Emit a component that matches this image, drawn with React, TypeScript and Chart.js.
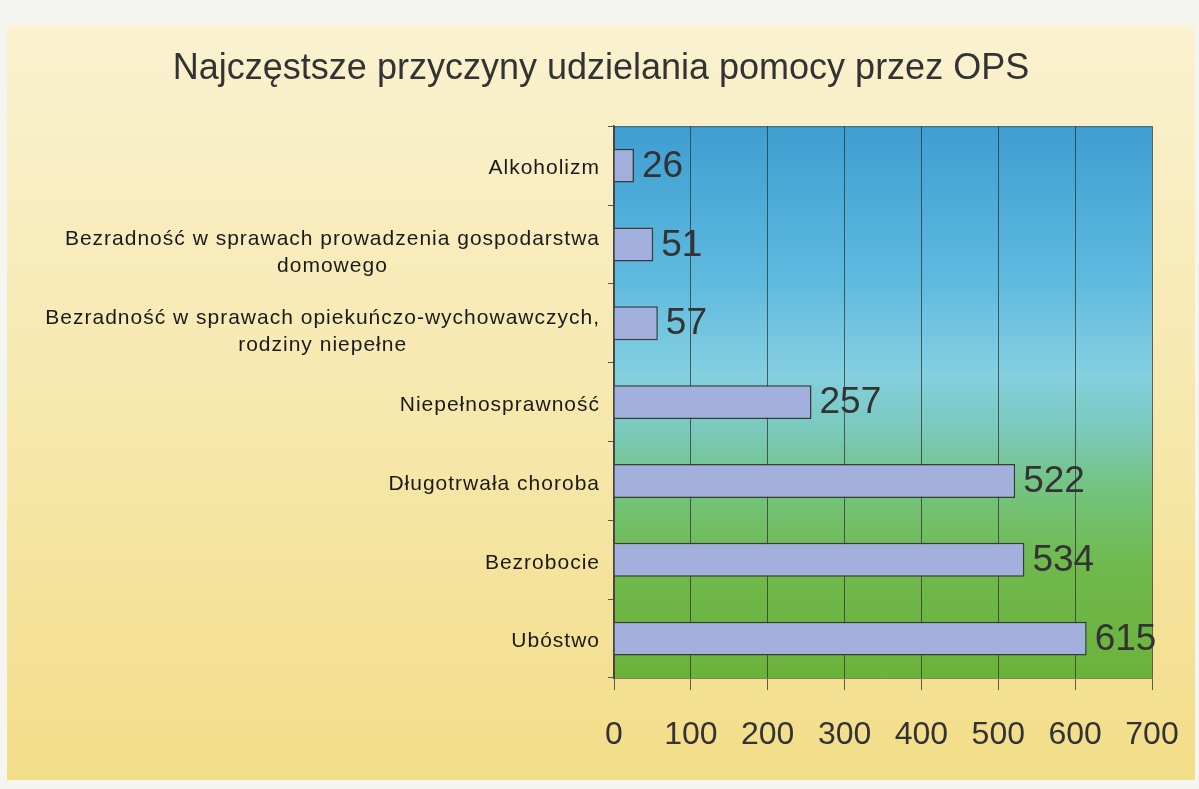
import React, { useEffect, useRef } from "react";
import { Chart, registerables } from "chart.js";

Chart.register(...registerables);

const TITLE = "Najczęstsze przyczyny udzielania pomocy przez OPS";
const categories: string[][] = [
  ["Alkoholizm"],
  ["Bezradność w sprawach prowadzenia gospodarstwa", "domowego"],
  ["Bezradność w sprawach opiekuńczo-wychowawczych,", "rodziny niepełne"],
  ["Niepełnosprawność"],
  ["Długotrwała choroba"],
  ["Bezrobocie"],
  ["Ubóstwo"],
];
const values = [26, 51, 57, 257, 522, 534, 615];
const xMin = 0;
const xMax = 700;
const xStep = 100;

const FONT = "'Liberation Sans', Arial, sans-serif";

const bgPlugin = {
  id: "bg",
  beforeDraw(chart: any) {
    const { ctx, chartArea: a, width, height } = chart;
    ctx.save();
    ctx.fillStyle = "#f4f4f1";
    ctx.fillRect(0, 0, width, height);
    const g = ctx.createLinearGradient(0, 25, 0, 780);
    g.addColorStop(0, "#faf2d0");
    g.addColorStop(0.5, "#f7e8ae");
    g.addColorStop(1, "#f2dd88");
    ctx.fillStyle = g;
    ctx.fillRect(7, 25, 1188, 755);
    const p = ctx.createLinearGradient(0, a.top, 0, a.bottom);
    p.addColorStop(0, "#3e9ed1");
    p.addColorStop(0.28, "#5fbadf");
    p.addColorStop(0.45, "#84cfe0");
    p.addColorStop(0.55, "#7ac9bc");
    p.addColorStop(0.66, "#74c37e");
    p.addColorStop(0.8, "#6fb94c");
    p.addColorStop(1, "#6cb33b");
    ctx.fillStyle = p;
    ctx.fillRect(a.left, a.top, a.right - a.left, a.bottom - a.top);
    ctx.strokeStyle = "rgba(60,60,60,0.7)";
    ctx.lineWidth = 1;
    ctx.beginPath();
    ctx.moveTo(a.left, a.top + 0.5);
    ctx.lineTo(a.right, a.top + 0.5);
    ctx.stroke();
    ctx.restore();
  },
};

const labelPlugin = {
  id: "labels",
  afterDatasetsDraw(chart: any) {
    const { ctx, chartArea: a } = chart;
    const yScale = chart.scales.y;
    ctx.save();
    ctx.font = `21px ${FONT}`;
    (ctx as any).letterSpacing = "1px";
    ctx.fillStyle = "#1a1a1a";
    ctx.textBaseline = "middle";
    ctx.textAlign = "center";
    const right = a.left - 14;
    categories.forEach((lines, i) => {
      const py = yScale.getPixelForTick(i);
      const maxW = Math.max(...lines.map((l) => ctx.measureText(l).width));
      const cx = right - maxW / 2;
      const n = lines.length;
      const lh = 27;
      const off = 3 + (n - 1) * 5;
      lines.forEach((l, j) => {
        ctx.fillText(l, cx, py + (j - (n - 1) / 2) * lh + off);
      });
    });
    (ctx as any).letterSpacing = "0px";
    ctx.font = `37px ${FONT}`;
    ctx.fillStyle = "#333";
    ctx.textAlign = "left";
    const meta = chart.getDatasetMeta(0);
    meta.data.forEach((bar: any, i: number) => {
      ctx.fillText(String(values[i]), bar.x + 8, bar.y + 1);
    });
    ctx.restore();
  },
};

export default function App() {
  const ref = useRef<HTMLCanvasElement | null>(null);
  useEffect(() => {
    document.body.style.margin = "0";
    const chart = new Chart(ref.current as HTMLCanvasElement, {
      type: "bar",
      data: {
        labels: categories.map((c) => c.join(" ")),
        datasets: [
          {
            data: values,
            backgroundColor: "#a3afdc",
            borderColor: "#3a3a3a",
            borderWidth: 1.5,
            barPercentage: 0.43,
            categoryPercentage: 1,
          },
        ],
      },
      options: {
        indexAxis: "y",
        responsive: false,
        animation: false,
        layout: { padding: { left: 50, right: 47, top: 0, bottom: 31 } },
        plugins: {
          legend: { display: false },
          tooltip: { enabled: false },
          title: {
            display: true,
            text: TITLE,
            color: "#333",
            font: { size: 36, family: FONT, weight: "normal" },
            padding: { top: 47, bottom: 36 },
          },
        },
        scales: {
          x: {
            min: xMin,
            max: xMax,
            ticks: {
              stepSize: xStep,
              color: "#333",
              font: { size: 32, family: FONT },
              padding: 26,
            },
            grid: {
              color: "rgba(50,50,50,0.75)",
              lineWidth: 1,
              tickLength: 12,
              drawTicks: true,
            },
            border: { display: true, color: "rgba(60,60,60,0.6)" },
            afterFit: (s: any) => {
              s.height = 80;
              s.paddingLeft = 0;
              s.paddingRight = 0;
            },
          },
          y: {
            offset: true,
            ticks: { display: false },
            grid: {
              offset: true,
              drawOnChartArea: false,
              drawTicks: true,
              tickLength: 6,
              color: "#555",
            },
            border: { display: true, color: "#444", width: 1.5 },
            afterFit: (s: any) => {
              s.width = 564;
            },
          },
        },
      },
      plugins: [bgPlugin, labelPlugin],
    } as any);
    return () => chart.destroy();
  }, []);
  return (
    <div style={{ position: "fixed", left: 0, top: 0, width: 1199, height: 789 }}>
      <canvas ref={ref} width={1199} height={789} style={{ display: "block" }} />
    </div>
  );
}
